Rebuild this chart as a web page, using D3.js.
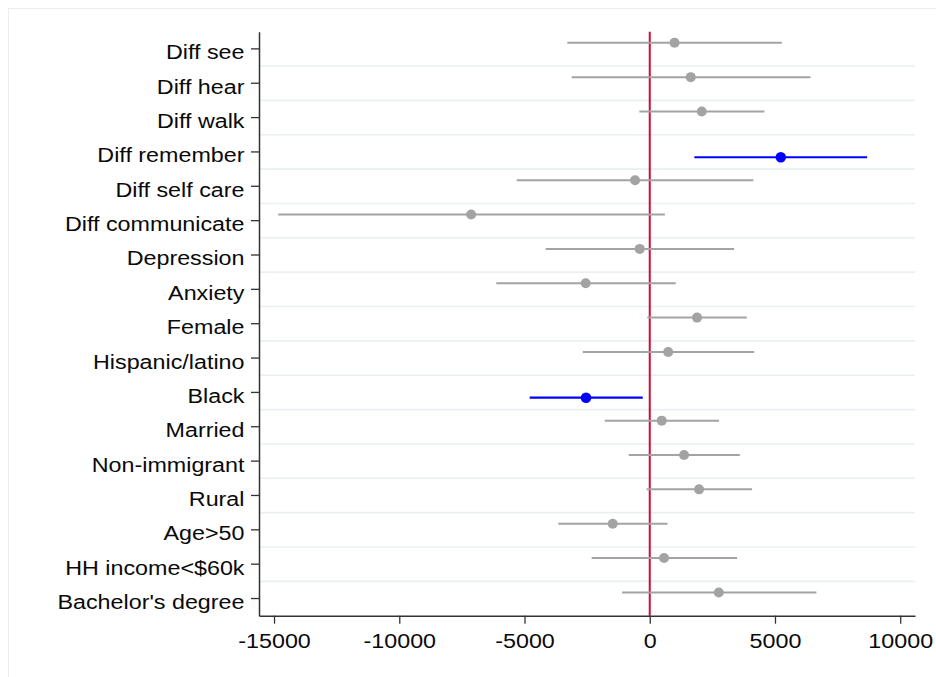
<!DOCTYPE html>
<html>
<head>
<meta charset="utf-8">
<script src="https://cdn.jsdelivr.net/npm/d3@7"></script>
<style>
  html, body { margin: 0; padding: 0; background: #fff; }
  svg { display: block; font-family: "Liberation Sans", Arial, Helvetica, sans-serif; }
</style>
</head>
<body>
<svg id="chart" width="936" height="677"></svg>
<script>
// ---- Data ----
const categories = [
  "Diff see", "Diff hear", "Diff walk", "Diff remember", "Diff self care",
  "Diff communicate", "Depression", "Anxiety", "Female", "Hispanic/latino",
  "Black", "Married", "Non-immigrant", "Rural", "Age>50",
  "HH income<$60k", "Bachelor's degree"
];
const coef   = [ 990, 1637, 2077, 5232, -587, -7130, -400, -2556, 1889,  737, -2544,  479, 1370, 1969, -1478,  571, 2756];
const ciLow  = [-3291, -3115, -415, 1781, -5312, -14834, -4154, -6127, -96, -2676, -4793, -1797, -839, -128, -3650, -2317, -1106];
const ciHigh = [5272, 6415, 4577, 8679, 4138, 605, 3367, 1038, 3874, 4166, -280, 2768, 3595, 4086, 711, 3487, 6654];
const significant = [false, false, false, true, false, false, false, false, false, false, true, false, false, false, false, false, false];
const xTicks = [-15000, -10000, -5000, 0, 5000, 10000];

const rows = categories.map((c, i) => ({
  cat: c, b: coef[i], lo: ciLow[i], hi: ciHigh[i], sig: significant[i]
}));

// ---- Layout ----
const svg = d3.select("#chart");
const plotL = 259, plotR = 915, plotT = 31.7, plotB = 615.7;
const stretch = 1.11;

// faint outer frame
svg.append("rect")
  .attr("x", 8.5).attr("y", 8.5).attr("width", 960).attr("height", 700)
  .attr("fill", "none").attr("stroke", "#ececec").attr("stroke-width", 1);

const x = d3.scaleLinear().domain([-15600, 10590]).range([plotL, plotR]);
const y = d3.scaleBand().domain(categories).range([plotT, plotB]).padding(0);
const step = y.step();
const yc = c => y(c) + step / 2;

// gridlines between categories
svg.append("g").selectAll("line")
  .data(categories.slice(1))
  .join("line")
  .attr("x1", plotL + 1).attr("x2", plotR)
  .attr("y1", c => y(c)).attr("y2", c => y(c))
  .attr("stroke", "#e9f0f2").attr("stroke-width", 1.6);

// zero reference line
svg.append("line")
  .attr("x1", x(0)).attr("x2", x(0))
  .attr("y1", plotT).attr("y2", plotB)
  .attr("stroke", "#cc0f3a").attr("stroke-width", 2);

// series offsets (two models)
const offGray = -6.1, offBlue = 5.3;
const gray = "#a3a3a3", blue = "#0000ff";

const marks = svg.append("g");
const rowY = d => yc(d.cat) + (d.sig ? offBlue : offGray);
marks.selectAll("line.ci")
  .data(rows)
  .join("line")
  .attr("class", "ci")
  .attr("x1", d => x(d.lo)).attr("x2", d => x(d.hi))
  .attr("y1", rowY).attr("y2", rowY)
  .attr("stroke", d => d.sig ? blue : gray)
  .attr("stroke-width", d => d.sig ? 2.2 : 2);
marks.selectAll("circle")
  .data(rows)
  .join("circle")
  .attr("cx", d => x(d.b)).attr("cy", rowY)
  .attr("r", d => d.sig ? 5.3 : 5)
  .attr("fill", d => d.sig ? blue : gray);

// axes
const axisColor = "#333";
const yAxis = svg.append("g")
  .attr("transform", `translate(${plotL},0)`)
  .call(d3.axisLeft(y).tickSize(8).tickSizeOuter(0));
const xAxis = svg.append("g")
  .attr("transform", `translate(0,${plotB})`)
  .call(d3.axisBottom(x).tickValues(xTicks).tickFormat(d => String(d)).tickSize(8).tickSizeOuter(0));

[yAxis, xAxis].forEach(g => {
  g.select(".domain").attr("stroke", axisColor).attr("stroke-width", 1.5);
  g.selectAll(".tick line").attr("stroke", axisColor).attr("stroke-width", 1.3);
  g.selectAll(".tick text")
    .attr("fill", "#0a0a0a")
    .style("font-size", "21px");
});
yAxis.selectAll(".tick text")
  .attr("x", -14.5 / stretch)
  .attr("dy", "0.5em")
  .attr("transform", `scale(${stretch},1)`);
xAxis.selectAll(".tick text")
  .attr("x", 0)
  .attr("y", 17.4)
  .attr("dy", "0.71em")
  .attr("transform", `scale(${stretch},1)`);
</script>
</body>
</html>
